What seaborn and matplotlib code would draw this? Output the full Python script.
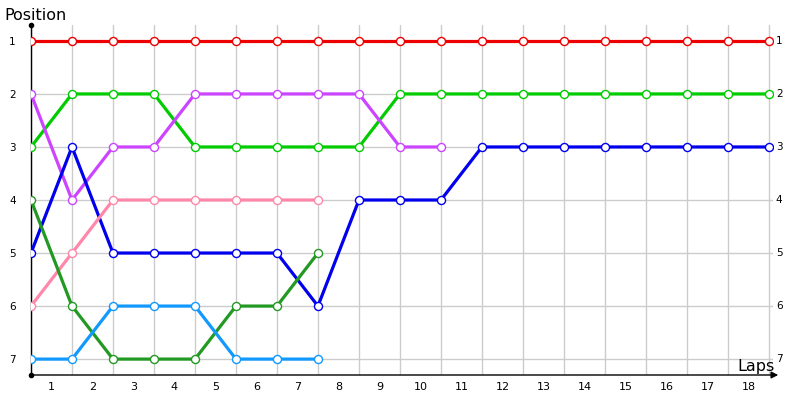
import matplotlib
matplotlib.use('Agg')
import matplotlib.pyplot as plt
import pandas as pd
import seaborn as sns

# Lap chart data: position after each lap (lap 0 = start grid)
laps = list(range(0, 19))
lap_labels = [str(i) for i in range(1, 19)]
positions = [1, 2, 3, 4, 5, 6, 7]

red = [1] * 19
green = [3, 2, 2, 2, 3, 3, 3, 3, 3, 2, 2, 2, 2, 2, 2, 2, 2, 2, 2]
magenta = [2, 4, 3, 3, 2, 2, 2, 2, 2, 3, 3]
blue = [5, 3, 5, 5, 5, 5, 5, 6, 4, 4, 4, 3, 3, 3, 3, 3, 3, 3, 3]
pink = [6, 5, 4, 4, 4, 4, 4, 4]
dark_green = [4, 6, 7, 7, 7, 6, 6, 5]
light_blue = [7, 7, 6, 6, 6, 7, 7, 7]

series = [
    (red, '#ee0000'),
    (green, '#00cc00'),
    (magenta, '#cc44ff'),
    (blue, '#0000ee'),
    (pink, '#ff88aa'),
    (dark_green, '#229922'),
    (light_blue, '#1199ff'),
]

sns.set_style('white')
plt.rcParams['text.color'] = 'black'
plt.rcParams['xtick.color'] = 'black'
plt.rcParams['ytick.color'] = 'black'

fig = plt.figure(figsize=(8, 4), dpi=100)
ax = fig.add_axes([31 / 800, 25 / 400, (773 - 31) / 800, 350 / 400])

for values, color in series:
    df = pd.DataFrame({'lap': laps[:len(values)], 'pos': values})
    sns.lineplot(data=df, x='lap', y='pos', ax=ax, color=color, linewidth=2.3,
                 marker='o', markersize=5.8, markerfacecolor='white',
                 markeredgecolor=color, markeredgewidth=1.0, zorder=3)

ax.set_xlim(0, 18.1)
ax.set_ylim(7.3, 0.7)

# gridlines at lap boundaries, labels between them
ax.set_xticks(laps)
ax.set_xticklabels([])
ax.set_xticks([i + 0.5 for i in range(18)], minor=True)
ax.set_xticklabels(lap_labels, minor=True, fontsize=8)
ax.tick_params(axis='x', which='both', length=0, pad=5)
ax.set_yticks(positions)
ax.set_yticklabels([str(p) for p in positions], fontsize=7.5)
ax.tick_params(axis='y', length=0, pad=11)
ax.grid(True, which='major', color='#cccccc', linewidth=1)
ax.set_xlabel('')
ax.set_ylabel('')

for s in ['top', 'right', 'bottom']:
    ax.spines[s].set_visible(False)
ax.spines['left'].set_color('black')
ax.spines['left'].set_linewidth(1)

# right-hand position labels
for p in positions:
    ax.text(18.17, p, str(p), fontsize=7.5, va='center', ha='left', clip_on=False)

# x axis with arrow, dots at ends of y axis
ax.annotate('', xy=(781 / 800, 25 / 400), xytext=(31 / 800, 25 / 400),
            xycoords='figure fraction',
            arrowprops=dict(arrowstyle='-|>', color='black', lw=1, mutation_scale=10))
fig.lines.append(plt.Line2D([31 / 800], [375 / 400], marker='o', markersize=3,
                            color='black', transform=fig.transFigure))
fig.lines.append(plt.Line2D([31 / 800], [25 / 400], marker='o', markersize=3,
                            color='black', transform=fig.transFigure))

fig.text(4 / 800, 1 - 15 / 400, 'Position', fontsize=11.5, va='center', ha='left')
fig.text(775 / 800, 1 - 367 / 400, 'Laps', fontsize=11.5, va='center', ha='right')

fig.savefig('out.png', dpi=100)
